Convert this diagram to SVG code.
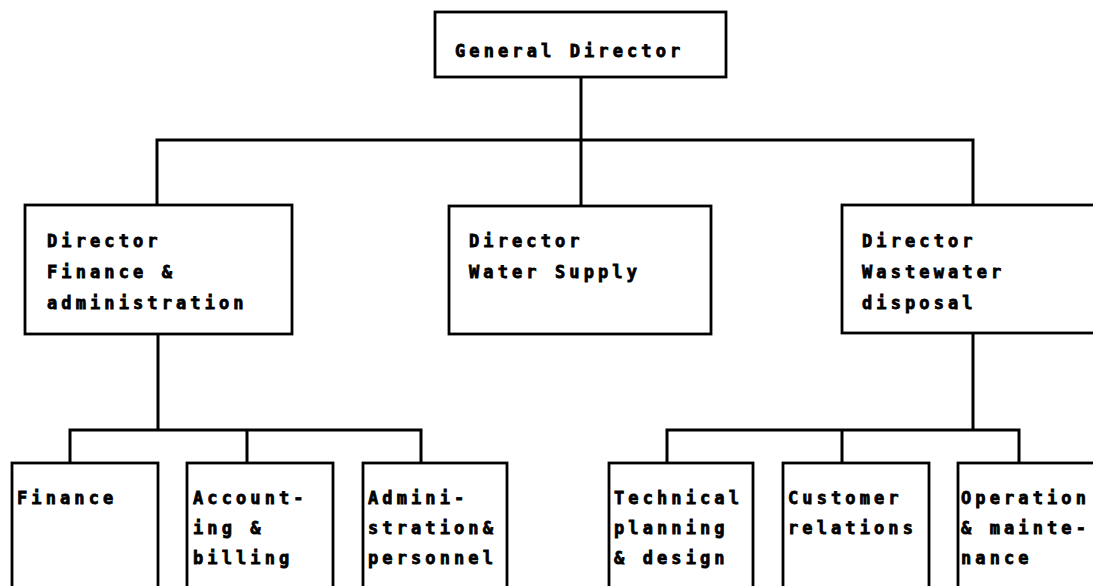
<svg xmlns="http://www.w3.org/2000/svg" width="1093" height="586" viewBox="0 0 1093 586">
<style>
.box{fill:#fff;stroke:#000;stroke-width:2.8}
.t{font-family:"DejaVu Sans Mono","Liberation Mono",monospace;font-weight:bold;font-size:17px;letter-spacing:4.1px;fill:#000;stroke:#000;stroke-width:0.8}
.c{fill:none;stroke:#000;stroke-width:3;stroke-linecap:square}
</style>
<rect width="1093" height="586" fill="#fff"/>
<g id="connectors">
<path class="c" d="M581 77V140M157 140H973M157 140V205M581 140V206M973 140V205"/>
<path class="c" d="M158 334V430M70 430H421M70 430V463M247 430V463M421 430V463"/>
<path class="c" d="M973 333V430M667 430H1019M667 430V463M842 430V463M1019 430V463"/>
</g>
<g id="general-director">
<rect class="box" x="435" y="12" width="291" height="65"/>
<text class="t" x="455" y="57">General Director</text>
</g>
<g id="director-finance">
<rect class="box" x="25" y="205" width="267" height="129"/>
<text class="t" x="47" y="247">Director</text>
<text class="t" x="47" y="278">Finance &amp;</text>
<text class="t" x="47" y="309">administration</text>
</g>
<g id="director-water">
<rect class="box" x="449" y="206" width="262" height="128"/>
<text class="t" x="469" y="247">Director</text>
<text class="t" x="469" y="278">Water Supply</text>
</g>
<g id="director-wastewater">
<rect class="box" x="842" y="205" width="270" height="128"/>
<text class="t" x="862" y="247">Director</text>
<text class="t" x="862" y="278">Wastewater</text>
<text class="t" x="862" y="309">disposal</text>
</g>
<g id="finance">
<rect class="box" x="12" y="463" width="146" height="140"/>
<text class="t" x="17" y="504">Finance</text>
</g>
<g id="accounting">
<rect class="box" x="187" y="463" width="146" height="140"/>
<text class="t" x="193" y="504">Account-</text>
<text class="t" x="193" y="534">ing &amp;</text>
<text class="t" x="193" y="564">billing</text>
</g>
<g id="administration">
<rect class="box" x="363" y="463" width="144" height="140"/>
<text class="t" x="368" y="504">Admini-</text>
<text class="t" x="368" y="534">stration&amp;</text>
<text class="t" x="368" y="564">personnel</text>
</g>
<g id="technical">
<rect class="box" x="609" y="463" width="144" height="140"/>
<text class="t" x="614" y="504">Technical</text>
<text class="t" x="614" y="534">planning</text>
<text class="t" x="614" y="564">&amp; design</text>
</g>
<g id="customer">
<rect class="box" x="783" y="463" width="146" height="140"/>
<text class="t" x="788" y="504">Customer</text>
<text class="t" x="788" y="534">relations</text>
</g>
<g id="operation">
<rect class="box" x="958" y="463" width="160" height="140"/>
<text class="t" x="961" y="504">Operation</text>
<text class="t" x="961" y="534">&amp; mainte-</text>
<text class="t" x="961" y="564">nance</text>
</g>
</svg>
